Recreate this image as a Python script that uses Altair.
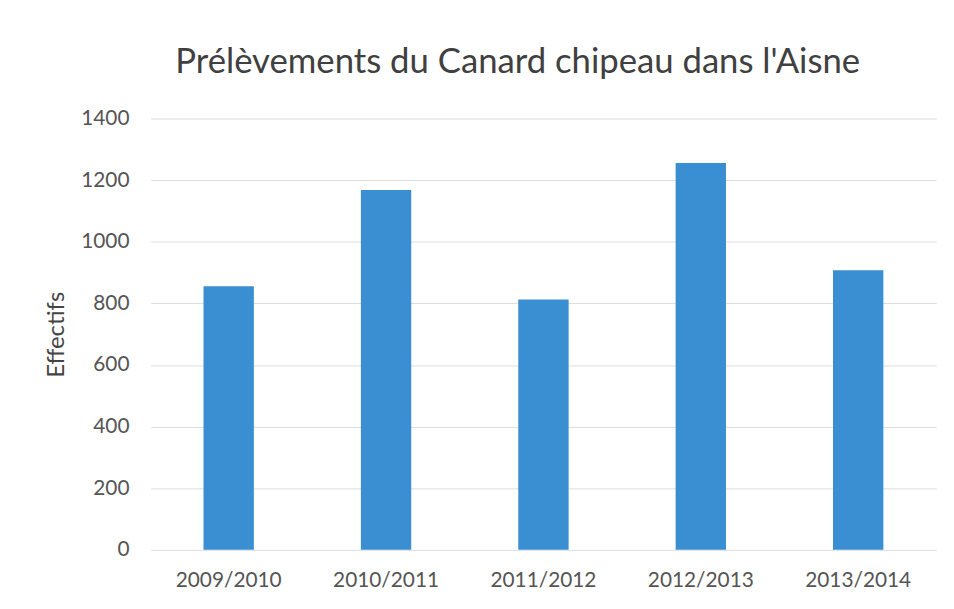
import altair as alt
import pandas as pd

seasons = ["2009/2010", "2010/2011", "2011/2012", "2012/2013", "2013/2014"]
effectifs = [856, 1168, 813, 1256, 908]

df = pd.DataFrame({"saison": seasons, "effectifs": effectifs})

FONT = "Lato"

chart = alt.Chart(df).mark_bar(color="#3a8fd2").encode(
    x=alt.X("saison:N", sort=seasons, title=None,
            scale=alt.Scale(paddingInner=0.68, paddingOuter=0.335),
            axis=alt.Axis(labelAngle=0, labelFontSize=21, labelColor="#555555",
                          labelFont=FONT, labelPadding=20, ticks=False, domain=False,
                          grid=False)),
    y=alt.Y("effectifs:Q", title="Effectifs",
            scale=alt.Scale(domain=[0, 1400]),
            axis=alt.Axis(values=[0, 200, 400, 600, 800, 1000, 1200, 1400],
                          format="d",
                          labelFontSize=21, labelColor="#555555", labelFont=FONT,
                          labelPadding=22, ticks=False, domain=False,
                          gridColor="#dddddd", gridWidth=1,
                          titleFont=FONT, titleFontSize=24, titleFontWeight="normal",
                          titleColor="#444444", titlePadding=12)),
).properties(
    width=792,
    height=435,
    title=alt.TitleParams("Prélèvements du Canard chipeau dans l'Aisne",
                          font=FONT, fontSize=35, fontWeight="normal",
                          color="#404040", anchor="middle", dx=-26, offset=28),
    autosize=alt.AutoSizeParams(type="none"),
    padding={"left": 144, "top": 109, "right": 10, "bottom": 40},
).configure(background="white").configure_view(stroke=None)

chart.save("out.html", embed_options={"renderer": "svg", "actions": False})
